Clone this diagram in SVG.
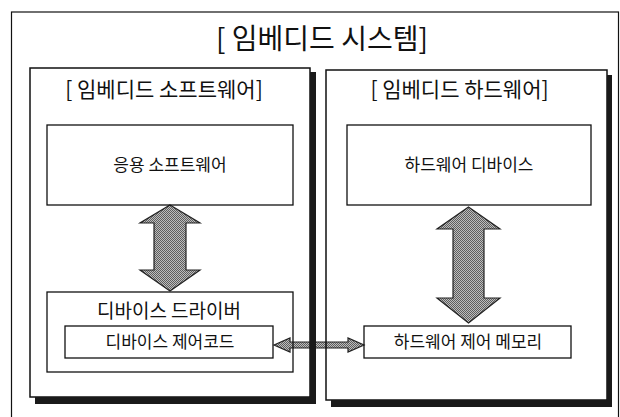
<svg xmlns="http://www.w3.org/2000/svg" width="620" height="417" viewBox="0 0 620 417">
  <style>
    text { font-family: 'Noto Sans CJK KR', 'Noto Sans', sans-serif; fill: #111; text-anchor: middle; }
    .frame { fill: none; stroke: #111; stroke-width: 1.2; }
    .panel { fill: none; stroke: #111; stroke-width: 1.5; }
    .box { fill: none; stroke: #111; stroke-width: 1.3; }
    .shadow { fill: #1a1a1a; }
    .arrow { fill: url(#dither); stroke: #222; stroke-width: 1.2; stroke-linejoin: miter; }
    .t-title { font-size: 28px; }
    .t-sub { font-size: 21px; }
    .t-box { font-size: 17px; }
    .t-drv { font-size: 19px; }
  </style>
  <defs>
    <pattern id="dither" width="2" height="2" patternUnits="userSpaceOnUse">
      <rect width="2" height="2" fill="#bdbdbd"/>
      <rect width="1" height="1" fill="#5e5e5e"/>
      <rect x="1" y="1" width="1" height="1" fill="#5e5e5e"/>
    </pattern>
  </defs>
  <rect width="620" height="417" fill="#fff"/>

  <g id="connectors">
    <polygon class="arrow" points="170,205 200,223 186,223 186,270 200,270 170,291 140,270 154,270 154,223 140,223"/>
    <polygon class="arrow" points="468.5,207 500,229 484,229 484,298 500,298 468.5,323 437,298 453,298 453,229 437,229"/>
    <polygon class="arrow" points="274,345 290,338 290,342 348,342 348,338 364,345 348,352 348,348 290,348 290,352"/>
  </g>

  <g id="system">
    <rect class="frame" x="11.5" y="12" width="607" height="420"/>
    <text class="t-title" x="322" y="49">[ 임베디드 시스템]</text>
  </g>

  <g id="sw-panel">
    <rect class="panel" x="30" y="68" width="280" height="329"/>
    <rect class="shadow" x="310" y="72" width="6" height="332"/>
    <rect class="shadow" x="35" y="397" width="281" height="7"/>
    <text class="t-sub" x="164" y="97">[ 임베디드 소프트웨어]</text>
  </g>

  <g id="hw-panel">
    <rect class="panel" x="326" y="70" width="281" height="330"/>
    <rect class="shadow" x="607" y="75" width="5" height="332"/>
    <rect class="shadow" x="331" y="400" width="281" height="7"/>
    <text class="t-sub" x="459.5" y="97">[ 임베디드 하드웨어]</text>
  </g>

  <g id="app-sw">
    <rect class="box" x="47" y="125" width="246" height="80"/>
    <text class="t-box" x="170" y="171">응용 소프트웨어</text>
  </g>

  <g id="hw-device">
    <rect class="box" x="347" y="125" width="244" height="80"/>
    <text class="t-box" x="469" y="171">하드웨어 디바이스</text>
  </g>

  <g id="device-driver">
    <rect class="box" x="47" y="292" width="246" height="80"/>
    <text class="t-drv" x="169" y="318">디바이스 드라이버</text>
  </g>

  <g id="device-control-code">
    <rect class="box" x="65" y="326" width="208" height="32"/>
    <text class="t-box" x="170" y="348">디바이스 제어코드</text>
  </g>

  <g id="hw-control-memory">
    <rect class="box" x="364" y="326" width="207" height="32"/>
    <text class="t-box" x="468" y="348">하드웨어 제어 메모리</text>
  </g>
</svg>
